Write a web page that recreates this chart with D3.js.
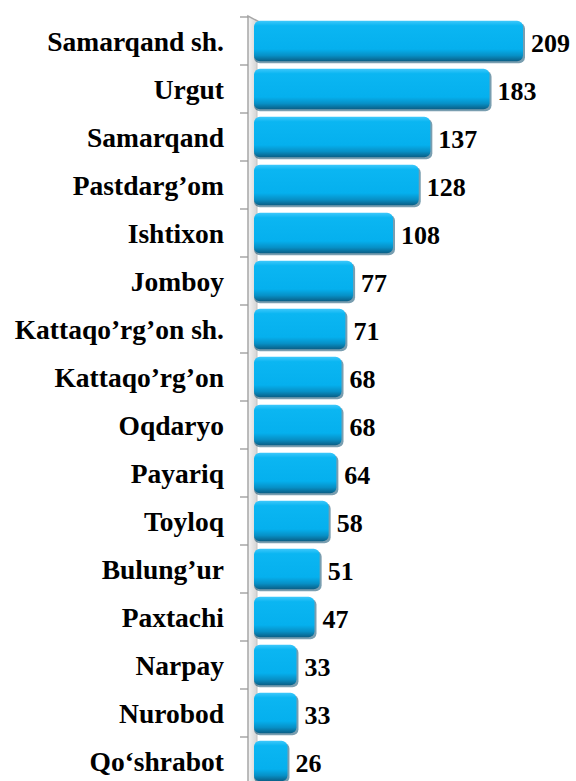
<!DOCTYPE html>
<html>
<head>
<meta charset="utf-8">
<script src="https://cdn.jsdelivr.net/npm/d3@7"></script>
<style>
  body { margin: 0; background: #fff; }
  text { font-family: "Liberation Serif", "Times New Roman", serif; font-weight: bold; fill: #000; }
</style>
</head>
<body>
<div id="chart"></div>
<script>
const districts = ["Samarqand sh.", "Urgut", "Samarqand", "Pastdarg\u2019om", "Ishtixon", "Jomboy",
  "Kattaqo\u2019rg\u2019on sh.", "Kattaqo\u2019rg\u2019on", "Oqdaryo", "Payariq", "Toyloq",
  "Bulung\u2019ur", "Paxtachi", "Narpay", "Nurobod", "Qo\u2018shrabot"];
const counts = [209, 183, 137, 128, 108, 77, 71, 68, 68, 64, 58, 51, 47, 33, 33, 26];

const width = 576, height = 781;
const x0 = 254;

const svg = d3.select("#chart").append("svg")
  .attr("width", width)
  .attr("height", height);

const defs = svg.append("defs");
const grad = defs.append("linearGradient")
  .attr("id", "barGrad")
  .attr("x1", 0).attr("y1", 0).attr("x2", 0).attr("y2", 1);
grad.append("stop").attr("offset", "0%").attr("stop-color", "#3cc8fb");
grad.append("stop").attr("offset", "12%").attr("stop-color", "#0bb6f2");
grad.append("stop").attr("offset", "70%").attr("stop-color", "#05b0ee");
grad.append("stop").attr("offset", "86%").attr("stop-color", "#0790c6");
grad.append("stop").attr("offset", "100%").attr("stop-color", "#0a5f86");

const wallGrad = defs.append("linearGradient")
  .attr("id", "wallGrad")
  .attr("x1", 0).attr("y1", 0).attr("x2", 1).attr("y2", 0);
wallGrad.append("stop").attr("offset", "0%").attr("stop-color", "#f4f4f4");
wallGrad.append("stop").attr("offset", "50%").attr("stop-color", "#d6d6d6");
wallGrad.append("stop").attr("offset", "100%").attr("stop-color", "#eeeeee");

const y = d3.scaleBand()
  .domain(districts)
  .range([17, 785])
  .paddingInner(0.16)
  .paddingOuter(0.08);

const x = d3.scaleLinear()
  .domain([0, 209])
  .range([x0, 523]);

// 3D side wall of the category axis
svg.append("path")
  .attr("d", `M248,16 L265,25 L257,25 L257,${height} L248,${height} Z`)
  .attr("fill", "url(#wallGrad)");
svg.append("path")
  .attr("d", `M248,${height} L248,16 L265,25`)
  .attr("fill", "none")
  .attr("stroke", "#a6a6a6")
  .attr("stroke-width", 1.5);
svg.append("line")
  .attr("x1", 257).attr("x2", 257)
  .attr("y1", 25).attr("y2", height)
  .attr("stroke", "#c4c4c4");

// tick marks between categories
svg.append("g")
  .selectAll("line")
  .data(d3.range(districts.length + 1))
  .join("line")
  .attr("x1", 240).attr("x2", 248)
  .attr("y1", i => 17 + i * y.step())
  .attr("y2", i => 17 + i * y.step())
  .attr("stroke", "#9a9a9a")
  .attr("stroke-width", 1.3);

const bars = svg.append("g")
  .selectAll("g")
  .data(districts)
  .join("g");

// shadow under bar end
bars.append("rect")
  .attr("x", x0)
  .attr("y", d => y(d) + 2)
  .attr("width", (d, i) => x(counts[i]) - x0 + 2)
  .attr("height", y.bandwidth())
  .attr("rx", 6)
  .attr("fill", "#0b4f70")
  .attr("opacity", 0.55);

bars.append("rect")
  .attr("x", x0)
  .attr("y", d => y(d))
  .attr("width", (d, i) => x(counts[i]) - x0)
  .attr("height", y.bandwidth())
  .attr("rx", 6)
  .attr("fill", "url(#barGrad)");

// category labels
svg.append("g")
  .selectAll("text")
  .data(districts)
  .join("text")
  .attr("x", 224)
  .attr("y", d => y(d) + y.bandwidth() / 2)
  .attr("dy", "0.35em")
  .attr("text-anchor", "end")
  .style("font-size", "27.5px")
  .text(d => d);

// value labels
svg.append("g")
  .selectAll("text")
  .data(counts)
  .join("text")
  .attr("x", d => x(d) + 8)
  .attr("y", (d, i) => y(districts[i]) + y.bandwidth() / 2)
  .attr("dy", "0.42em")
  .style("font-size", "26px")
  .text(d => d);
</script>
</body>
</html>
